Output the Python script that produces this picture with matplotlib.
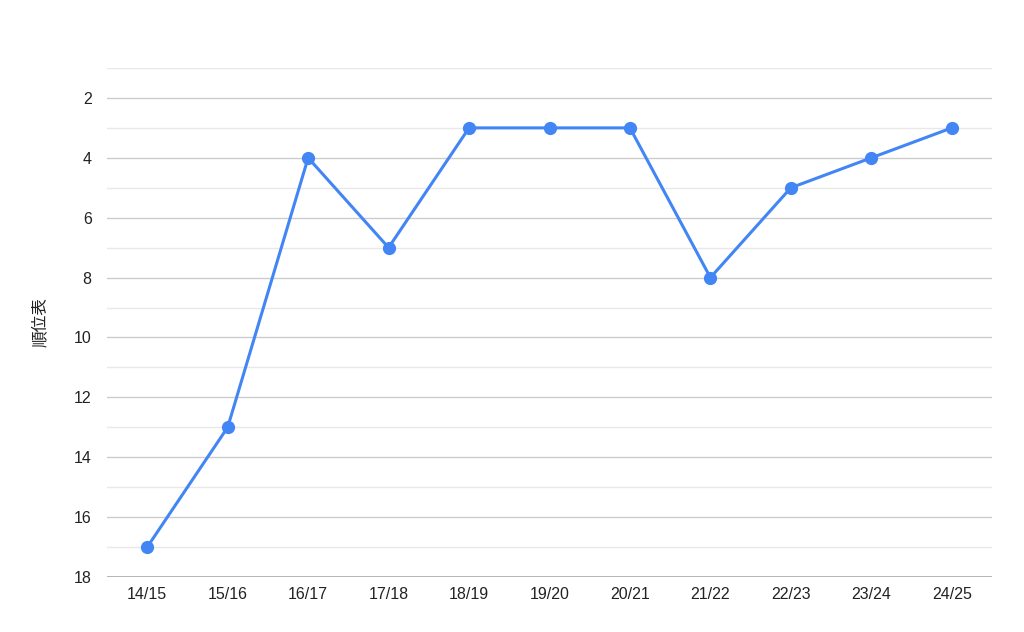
import matplotlib.pyplot as plt
import numpy as np

seasons = ['14/15', '15/16', '16/17', '17/18', '18/19', '19/20',
           '20/21', '21/22', '22/23', '23/24', '24/25']
positions = [17, 13, 4, 7, 3, 3, 3, 8, 5, 4, 3]
y_label = '順位表'

plt.rcParams['font.family'] = ['Liberation Sans', 'Noto Sans CJK JP', 'DejaVu Sans']

fig = plt.figure(figsize=(10.24, 6.32), dpi=100)
ax = fig.add_axes([107 / 1024, 1 - 577 / 632, (992 - 107) / 1024, (577 - 68) / 632])

x = np.arange(len(seasons))
ax.plot(x, positions, color='#4285f4', lw=2.2, marker='o', ms=8.5, zorder=3)

ax.set_xlim(-0.5, len(seasons) - 0.5)
ax.set_ylim(18, 1)
ax.set_yticks(range(2, 19, 2))
ax.set_yticks(range(1, 19, 2), minor=True)
ax.set_xticks(x)
ax.set_xticklabels(seasons)
ax.grid(axis='y', which='major', color='#cccccc', lw=1)
ax.grid(axis='y', which='minor', color='#e8e8e8', lw=1)
ax.axhline(18, color='#aaaaaa', lw=1.2, zorder=2)
for s in ax.spines.values():
    s.set_visible(False)
ax.tick_params(axis='both', which='both', length=0, labelsize=11.5, colors='#222222')
ax.tick_params(axis='y', pad=11)
ax.tick_params(axis='x', pad=7)
ax.set_ylabel(y_label, fontsize=12, color='#222222', labelpad=18,
              family=['Noto Sans CJK JP', 'DejaVu Sans'])

fig.savefig('out.png', dpi=100)
